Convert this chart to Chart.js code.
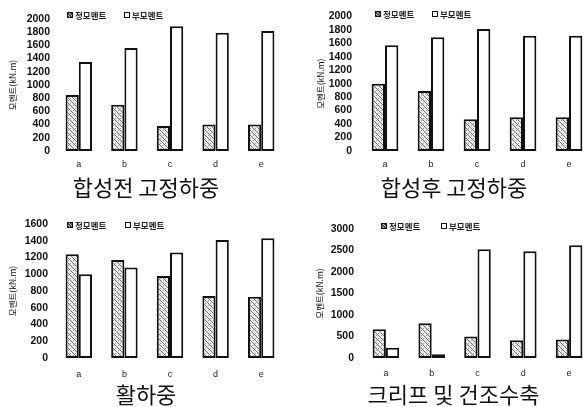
<!DOCTYPE html>
<html>
<head>
<meta charset="utf-8">
<script src="https://cdn.jsdelivr.net/npm/chart.js@4.4.1/dist/chart.umd.min.js"></script>
<style>
  html, body { margin: 0; padding: 0; background: #fff; }
  body { width: 586px; height: 407px; overflow: hidden; position: relative; }
  canvas.panel { position: absolute; }
  .legend { position: absolute; height: 10px; font: bold 8.5px 'Noto Sans CJK KR', sans-serif; color: #222; }
  .legend .item { position: absolute; top: 0; display: flex; align-items: center; white-space: nowrap; line-height: 10px; }
  .legend .sw { display: inline-block; width: 4px; height: 4px; border: 1.5px solid #111; margin-right: 2px; background: #fff; }
  .legend .sw.hatch { background: repeating-linear-gradient(45deg, #444 0 1px, #ccc 1px 2px); }
</style>
</head>
<body>
<canvas id="c1" class="panel" width="293" height="200" style="left:0;top:0"></canvas>
<canvas id="c2" class="panel" width="322" height="200" style="left:293px;top:0"></canvas>
<canvas id="c3" class="panel" width="293" height="207" style="left:0;top:200px"></canvas>
<canvas id="c4" class="panel" width="322" height="207" style="left:293px;top:200px"></canvas>
<div id="legends"></div>
<script>
// Girder sections and the two moment series
const categories = ['a', 'b', 'c', 'd', 'e'];
const seriesNames = ['정모멘트', '부모멘트'];
const panelTitles = ['합성전 고정하중', '합성후 고정하중', '활하중', '크리프 및 건조수축'];
const yAxisTitle = '모멘트(kN.m)';

// Moments in kN.m
const deadBeforePositive = [850, 700, 380, 400, 400];
const deadBeforeNegative = [1350, 1560, 1890, 1790, 1820];
const deadAfterPositive  = [1000, 890, 470, 500, 500];
const deadAfterNegative  = [1570, 1690, 1810, 1710, 1710];
const livePositive       = [1240, 1170, 980, 740, 730];
const liveNegative       = [1000, 1080, 1260, 1410, 1430];
const creepPositive      = [670, 810, 500, 410, 430];
const creepNegative      = [240, 90, 2530, 2480, 2620];

// Y axis ranges
const yMaxima = [2000, 2000, 1600, 3000];
const yStepSizes = [200, 200, 200, 500];

const panelSeries = [
  [deadBeforePositive, deadBeforeNegative],
  [deadAfterPositive, deadAfterNegative],
  [livePositive, liveNegative],
  [creepPositive, creepNegative]
];

// Frame geometry of each panel
const frames = [
  { id: 'c1', padL: 8,  padR: 9,  padT: 19, yW: 48, yPad: 6,  xH: 24.8, xPad: 8,  legend: [0, 10, 67, 124] },
  { id: 'c2', padL: 23, padR: 23, padT: 15, yW: 46, yPad: 10, xH: 24.8, xPad: 8,  legend: [293, 9, 375, 432] },
  { id: 'c3', padL: 8,  padR: 9,  padT: 24, yW: 48, yPad: 8,  xH: 24.8, xPad: 11, legend: [0, 220, 67, 125] },
  { id: 'c4', padL: 22, padR: 23, padT: 29, yW: 48, yPad: 9,  xH: 24.8, xPad: 10, legend: [293, 221, 381, 441] }
];

// Diagonal hatch used for the positive-moment bars
function makeHatch() {
  const t = document.createElement('canvas');
  t.width = 5; t.height = 5;
  const g = t.getContext('2d');
  g.fillStyle = '#ececec';
  g.fillRect(0, 0, 5, 5);
  g.strokeStyle = '#707070';
  g.lineWidth = 1;
  g.beginPath();
  g.moveTo(-1, -1); g.lineTo(6, 6);
  g.stroke();
  g.fillStyle = '#9a9a9a';
  g.fillRect(3, 0, 1, 1);
  g.fillRect(0, 3, 1, 1);
  return g.createPattern(t, 'repeat');
}

const hatch = makeHatch();
const ink = '#111';

frames.forEach((f, i) => {
  const [pos, neg] = panelSeries[i];
  new Chart(document.getElementById(f.id), {
    type: 'bar',
    data: {
      labels: categories,
      datasets: [
        { label: seriesNames[0], data: pos, backgroundColor: hatch, borderColor: ink, borderWidth: 2, borderSkipped: false },
        { label: seriesNames[1], data: neg, backgroundColor: '#fff', borderColor: ink, borderWidth: 2, borderSkipped: false }
      ]
    },
    options: {
      responsive: false,
      animation: false,
      events: [],
      layout: { padding: { left: f.padL, right: f.padR, top: f.padT, bottom: 0 } },
      datasets: { bar: { categoryPercentage: 0.58, barPercentage: 1 } },
      plugins: {
        legend: { display: false },
        tooltip: { enabled: false },
        title: {
          display: true,
          position: 'bottom',
          text: panelTitles[i],
          color: '#111',
          padding: 0,
          font: { family: "'Noto Sans CJK KR', sans-serif", size: 22, weight: 'normal', lineHeight: 1.1 }
        }
      },
      scales: {
        x: {
          grid: { display: false, drawTicks: false },
          border: { display: false },
          ticks: { color: '#222', padding: f.xPad, maxRotation: 0, font: { family: "'Liberation Sans', sans-serif", size: 9 } },
          afterFit: s => { s.height = f.xH; }
        },
        y: {
          min: 0,
          max: yMaxima[i],
          grid: { display: false, drawTicks: false },
          border: { display: false },
          ticks: {
            stepSize: yStepSizes[i],
            autoSkip: false,
            callback: v => String(v),
            color: '#111',
            padding: f.yPad,
            font: { family: "'Liberation Sans', sans-serif", size: 10.5, weight: 'bold' }
          },
          title: { display: true, text: yAxisTitle, color: '#111', padding: 0, font: { family: "'Noto Sans CJK KR', sans-serif", size: 8.5, lineHeight: 1.2 } },
          afterFit: s => { s.width = f.yW; }
        }
      }
    }
  });

  // Legend row above the bars
  const [ox, oy, x1, x2] = f.legend;
  const box = document.createElement('div');
  box.className = 'legend';
  box.style.left = '0px';
  box.style.top = oy + 'px';
  box.innerHTML =
    '<span class="item" style="left:' + x1 + 'px"><span class="sw hatch"></span>' + seriesNames[0] + '</span>' +
    '<span class="item" style="left:' + x2 + 'px"><span class="sw"></span>' + seriesNames[1] + '</span>';
  document.getElementById('legends').appendChild(box);
});
</script>
</body>
</html>
